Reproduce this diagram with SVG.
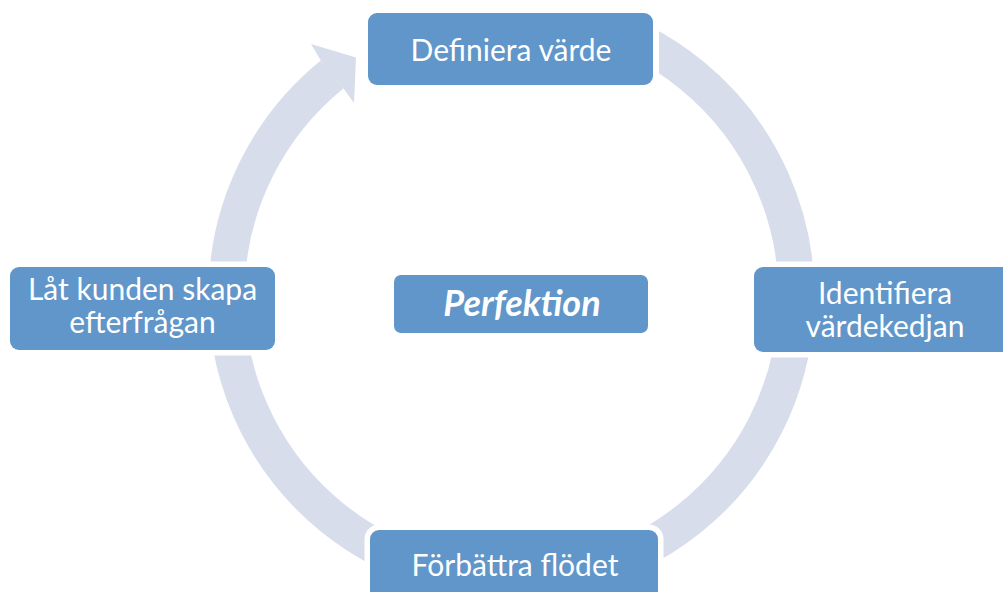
<svg xmlns="http://www.w3.org/2000/svg" width="1003" height="592" viewBox="0 0 1003 592">
<defs>
<style>
.box{fill:#6096c9;stroke:#fff;stroke-width:11;paint-order:stroke}
.lbl{font-family:Lato,"Open Sans",sans-serif;font-size:30px;fill:#fff;text-anchor:middle}
.big{font-size:36px;font-weight:bold;font-style:italic}
.ring{fill:none;stroke:#d8ddeb;stroke-width:36}
</style>
<clipPath id="cut"><path clip-rule="evenodd" d="M-10-10H1013V602H-10Z M362-50V91H659V-50Z"/></clipPath>
</defs>
<rect width="1003" height="592" fill="#fff"/>
<g id="connectors" clip-path="url(#cut)">
<path class="ring" d="M585.26 20.7 A285 285 0 1 1 332.1 74.5"/>
<polygon fill="#d8ddeb" points="320.8,60.5 311,44 356,57.5 354,103 343.5,88.5 332,75"/>
</g>
<g id="node-definiera"><rect class="box" x="368" y="13" width="285" height="72" rx="9"/><text class="lbl" x="511" y="61">Definiera värde</text></g>
<g id="node-identifiera"><rect class="box" x="754" y="267" width="262" height="85" rx="9"/><text class="lbl" x="885" y="304">Identifiera</text><text class="lbl" x="885" y="337">värdekedjan</text></g>
<g id="node-forbattra"><rect class="box" x="370" y="530" width="288" height="80" rx="9"/><text class="lbl" x="515" y="576">Förbättra flödet</text></g>
<g id="node-latkunden"><rect class="box" x="10" y="267" width="265" height="83" rx="9"/><text class="lbl" x="142.5" y="300">Låt kunden skapa</text><text class="lbl" x="142.5" y="333">efterfrågan</text></g>
<g id="node-perfektion"><rect class="box" x="394" y="275" width="254" height="58" rx="7"/><text class="lbl big" x="522" y="316">Perfektion</text></g>
</svg>
